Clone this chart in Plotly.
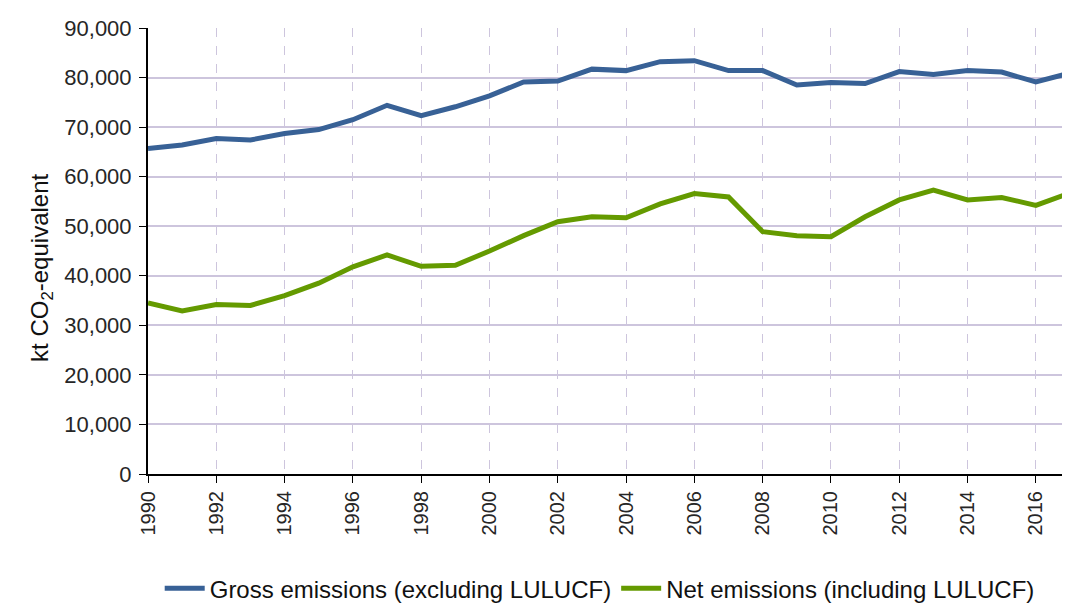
import plotly.graph_objs as go

# Emissions, kt CO2-equivalent
years = list(range(1990, 2018))
gross = [65700, 66400, 67700, 67400, 68700, 69500, 71500, 74400, 72300, 74100,
         76300, 79100, 79300, 81700, 81400, 83200, 83400, 81400, 81400, 78500,
         79000, 78800, 81200, 80600, 81400, 81100, 79100, 80900]
net = [34500, 32900, 34200, 34000, 36000, 38500, 41800, 44200, 41900, 42100,
       45000, 48100, 50900, 51900, 51700, 54500, 56600, 55900, 48900, 48100,
       47900, 51900, 55300, 57300, 55300, 55800, 54200, 56700]

fig = go.Figure()
fig.add_trace(go.Scatter(x=years, y=gross, mode="lines", name="Gross emissions (excluding LULUCF)",
                         line=dict(color="#386196", width=5)))
fig.add_trace(go.Scatter(x=years, y=net, mode="lines", name="Net emissions (including LULUCF)",
                         line=dict(color="#649a00", width=5)))

# page body has an 8px margin, so everything is laid out 8px up/left of the window
fig.update_layout(
    width=1070, height=606,
    margin=dict(l=140, r=8, t=20, b=140, autoexpand=False),
    plot_bgcolor="white", paper_bgcolor="white",
    font=dict(family="Liberation Sans, Arial, sans-serif", size=20, color="#262626"),
    legend=dict(orientation="h", xref="container", x=0.553, xanchor="center",
                yref="paper", y=-0.257, yanchor="middle",
                font=dict(size=24, color="#111111"), itemwidth=40, traceorder="normal"),
    showlegend=True,
)
# y axis title placed as an annotation (sits a bit below the plot centre)
fig.add_annotation(text="kt CO<sub>2</sub>-equivalent", textangle=-90,
                   xref="paper", yref="paper", x=-0.115, y=0.462,
                   xanchor="center", yanchor="middle", showarrow=False,
                   font=dict(size=24, color="#111111"))
fig.update_xaxes(
    range=[1990, 2017], dtick=2, tick0=1990, tickangle=-90,
    showline=True, linecolor="black", linewidth=2,
    ticks="outside", ticklen=7, tickcolor="black",
    showgrid=True, gridcolor="#cdc5dd", griddash="dash", gridwidth=1,
    zeroline=False, automargin=False,
)
fig.update_yaxes(
    range=[0, 90000], dtick=10000, tickformat=",", tickfont=dict(size=22),
    ticklabelstandoff=3,
    showline=True, linecolor="black", linewidth=2,
    ticks="outside", ticklen=7, tickcolor="black",
    showgrid=True, gridcolor="#cdc5dd", gridwidth=1.5,
    zeroline=False, automargin=False,
)

fig.write_html("out.html")
